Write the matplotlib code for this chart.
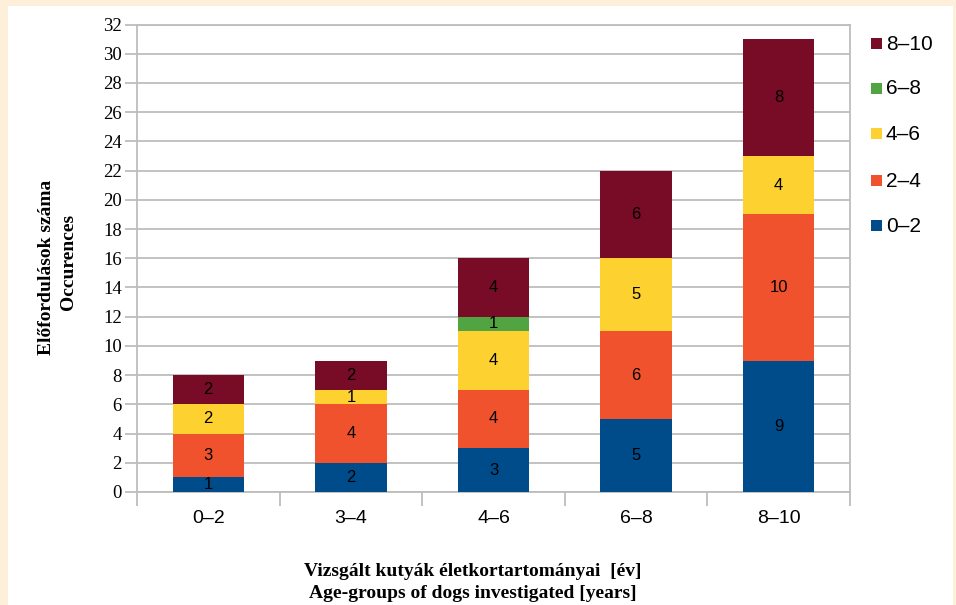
import numpy as np
import matplotlib.pyplot as plt
from matplotlib.patches import Rectangle

# age groups on the x axis and the stacked series (bottom to top)
groups = ['0–2', '3–4', '4–6', '6–8', '8–10']
series = ['0–2', '2–4', '4–6', '6–8', '8–10']
values = {
    '0–2':  [1, 2, 3, 5, 9],
    '2–4':  [3, 4, 4, 6, 10],
    '4–6':  [2, 1, 4, 5, 4],
    '6–8':  [0, 0, 1, 0, 0],
    '8–10': [2, 2, 4, 6, 8],
}
colors = ['#004c8a', '#f0522d', '#fdd12f', '#52a443', '#780b26']
yticks = np.arange(0, 33, 2)

W, H = 956, 605
fig = plt.figure(figsize=(W / 100, H / 100), dpi=100)
fig.patch.set_facecolor('#fdefd9')
# white panel inside the cream border
fig.patches.append(Rectangle((8 / W, 0), (953 - 8) / W, (H - 6) / H,
                             transform=fig.transFigure, facecolor='white',
                             edgecolor='none', zorder=-10))

ax = fig.add_axes([137 / W, 1 - 492 / H, (850 - 137) / W, (492 - 24.5) / H])
ax.set_facecolor('white')

x = np.arange(len(groups))
bottom = np.zeros(len(groups))
for name, col in zip(series, colors):
    v = np.array(values[name])
    ax.bar(x, v, width=0.5, bottom=bottom, color=col, edgecolor='none', zorder=3)
    for xi, b, h in zip(x, bottom, v):
        if h > 0:
            ax.text(xi, b + h / 2, str(h), ha='center', va='center',
                    fontsize=12, family='Liberation Sans', color='black', zorder=4)
    bottom += v

ax.set_xlim(-0.5, len(groups) - 0.5)
ax.set_ylim(0, 32)
ax.set_yticks(yticks)
ax.set_yticklabels([str(t) for t in yticks], family='Liberation Serif', fontsize=13.5)
ax.yaxis.grid(True, color='#bdbdbd', linewidth=1.3, zorder=0)
ax.set_axisbelow(True)

# category labels centered, separator ticks between groups
ax.set_xticks(x)
ax.set_xticklabels(groups, family='Liberation Sans', fontsize=14)
ax.tick_params(axis='x', length=0, pad=13)
ax.set_xticks(np.arange(-0.5, len(groups)), minor=True)
ax.tick_params(axis='x', which='minor', length=10, width=1.3, color='#bdbdbd')
ax.tick_params(axis='y', length=9, width=1.3, color='#bdbdbd', pad=2)

for side in ['left', 'right', 'top', 'bottom']:
    ax.spines[side].set_color('#bdbdbd')
    ax.spines[side].set_linewidth(1.3)

# axis titles
fig.text(473 / W, 1 - 572 / H, 'Vizsgált kutyák életkortartományai  [év]',
         ha='center', va='center', family='Liberation Serif', fontweight='bold', fontsize=14)
fig.text(473 / W, 1 - 593 / H, 'Age-groups of dogs investigated [years]',
         ha='center', va='center', family='Liberation Serif', fontweight='bold', fontsize=14)
fig.text(47 / W, 1 - 267 / H, 'Előfordulások száma', rotation=90,
         ha='center', va='center', family='Liberation Serif', fontweight='bold', fontsize=14)
fig.text(69 / W, 1 - 262 / H, 'Occurences', rotation=90,
         ha='center', va='center', family='Liberation Serif', fontweight='bold', fontsize=14)

# legend, top entry is the last series
legend_y = [44, 89, 134, 181, 226]
for yy, name, col in zip(legend_y, series[::-1], colors[::-1]):
    fig.patches.append(Rectangle((871 / W, 1 - (yy + 5) / H), 11 / W, 11 / H,
                                 transform=fig.transFigure, facecolor=col,
                                 edgecolor='none', zorder=2))
    fig.text(886 / W, 1 - yy / H, name, ha='left', va='center',
             family='Liberation Sans', fontsize=15)

fig.savefig('out.png', dpi=100, facecolor=fig.get_facecolor())
